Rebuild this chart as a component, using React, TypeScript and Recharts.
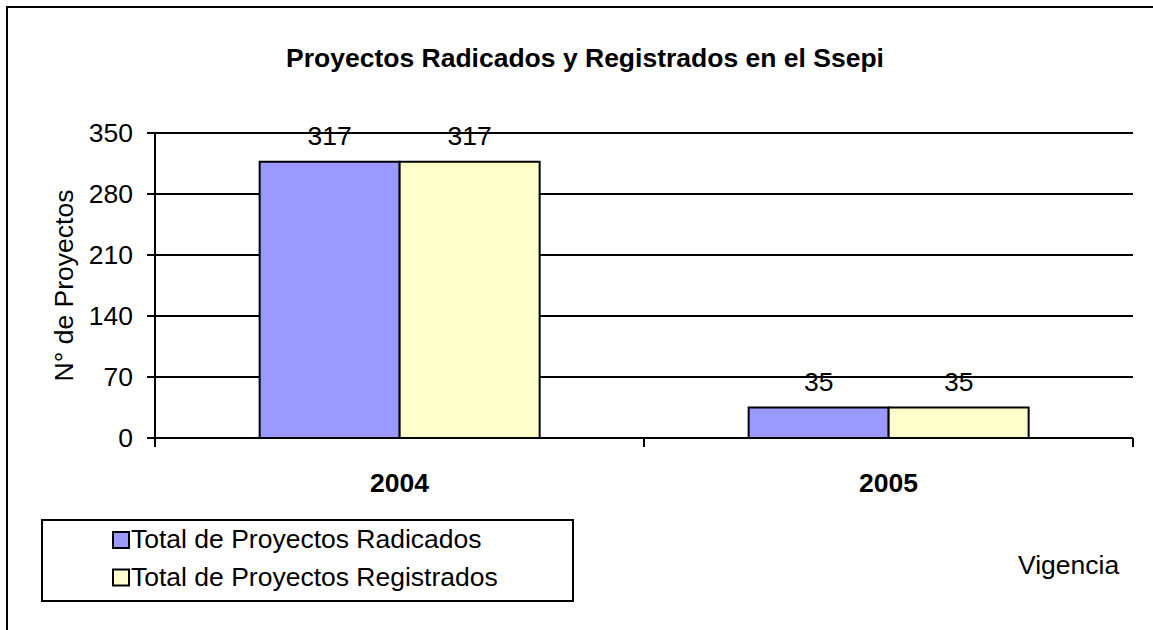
import React from "react";
import { BarChart, Bar, XAxis, YAxis, CartesianGrid, LabelList } from "recharts";

const years = ["2004", "2005"];
const radicados = [317, 35];
const registrados = [317, 35];
const yTicks = [0, 70, 140, 210, 280, 350];

const seriesNames = ["Total de Proyectos Radicados", "Total de Proyectos Registrados"];
const seriesColors = ["#9999FF", "#FFFFCC"];

const chartTitle = "Proyectos Radicados y Registrados en el Ssepi";
const yTitle = "N° de Proyectos";
const xTitle = "Vigencia";

const font = "'Liberation Sans', Arial, sans-serif";
const fs = 26.5;

// category label plus tick marks at the band edges
const YearTick = (props: any) => {
  const { x, y, payload } = props;
  const half = payload && payload.offset ? payload.offset : 244.5;
  return (
    <g>
      <line x1={x - half} y1={y} x2={x - half} y2={y + 9} stroke="#000" strokeWidth={2} />
      <line x1={x + half} y1={y} x2={x + half} y2={y + 9} stroke="#000" strokeWidth={2} />
      <text x={x} y={y + 54} textAnchor="middle" fontFamily={font} fontSize={fs} fontWeight="bold" fill="#000">
        {payload.value}
      </text>
    </g>
  );
};

export default function App() {
  const data = years.map((y, i) => ({
    year: y,
    radicados: radicados[i],
    registrados: registrados[i],
  }));

  const yLabel = (props: any) => {
    const vb = props.viewBox;
    const x = vb.x + 73;
    const y = vb.y + vb.height / 2;
    return (
      <text x={x} y={y} transform={`rotate(-90, ${x}, ${y})`} textAnchor="middle"
        fontFamily={font} fontSize={fs} fill="#000">
        {yTitle}
      </text>
    );
  };

  return (
    <div style={{ position: "absolute", left: 0, top: 0, width: 1153, height: 630, overflow: "hidden", background: "#fff" }}>
      <BarChart
        width={1153}
        height={630}
        data={data}
        margin={{ top: 133, right: 20, left: 0, bottom: 190 }}
        barCategoryGap="21.4%"
        barGap={0}
        style={{ position: "absolute", left: 0, top: 0 }}
      >
        <CartesianGrid vertical={false} stroke="#000" strokeWidth={2} />
        <XAxis
          dataKey="year"
          height={2}
          tickLine={false}
          tickSize={0}
          tickMargin={0}
          axisLine={{ stroke: "#000", strokeWidth: 2 }}
          tick={<YearTick />}
        />
        <YAxis
          width={155}
          domain={[0, 350]}
          ticks={yTicks}
          interval={0}
          tickSize={8}
          tickMargin={14}
          axisLine={{ stroke: "#000", strokeWidth: 2 }}
          tickLine={{ stroke: "#000", strokeWidth: 2 }}
          tick={{ fill: "#000", fontSize: fs, fontFamily: font }}
          label={yLabel}
        />
        <Bar dataKey="radicados" fill={seriesColors[0]} stroke="#000" strokeWidth={2} isAnimationActive={false}>
          <LabelList dataKey="radicados" position="top" offset={17} fill="#000" fontSize={fs} fontFamily={font} />
        </Bar>
        <Bar dataKey="registrados" fill={seriesColors[1]} stroke="#000" strokeWidth={2} isAnimationActive={false}>
          <LabelList dataKey="registrados" position="top" offset={17} fill="#000" fontSize={fs} fontFamily={font} />
        </Bar>
      </BarChart>

      <svg width={1153} height={630} style={{ position: "absolute", left: 0, top: 0, pointerEvents: "none" }}>
        <rect x={7} y={7} width={1200} height={700} fill="none" stroke="#000" strokeWidth={2} />
        <text x={585} y={67} textAnchor="middle" fontFamily={font} fontSize={fs} fontWeight="bold" fill="#000">
          {chartTitle}
        </text>
        <rect x={42} y={520} width={531} height={81} fill="#fff" stroke="#000" strokeWidth={2} />
        {seriesNames.map((name, i) => (
          <g key={name}>
            <rect x={113} y={532 + i * 37.5} width={16} height={16} fill={seriesColors[i]} stroke="#000" strokeWidth={2} />
            <text x={131} y={548 + i * 38} fontFamily={font} fontSize={fs} fill="#000">
              {name}
            </text>
          </g>
        ))}
        <text x={1018} y={574} fontFamily={font} fontSize={fs} fill="#000">
          {xTitle}
        </text>
      </svg>
    </div>
  );
}
